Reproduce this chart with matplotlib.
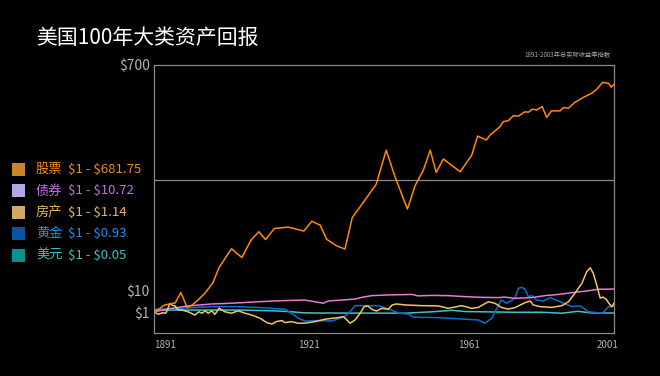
import numpy as np
import matplotlib
matplotlib.use('Agg')
import matplotlib.pyplot as plt
from matplotlib.patches import Rectangle

plt.rcParams['font.family'] = ['Noto Sans CJK SC', 'DejaVu Sans']

# 数据 (从图上读出, 单位: 美元)
years_stock = [1891, 1892.2, 1893.1, 1895.1, 1896.2, 1897.4, 1898.4, 1899.5, 1900.9, 1902.4,
               1903.6, 1906.0, 1908.0, 1909.8, 1911.3, 1912.6, 1914.3, 1917.0, 1920.0, 1921.7,
               1923.8, 1925.4, 1927.9, 1930.0, 1931.8, 1934.6, 1937.8, 1940.3, 1942.5, 1945.6,
               1947.5, 1949.6, 1951.3, 1952.8, 1954.6, 1958.8, 1961.8, 1963.5, 1966.0, 1967.1,
               1970.0, 1970.9, 1972.4, 1973.8, 1975.3, 1977.2, 1978.2, 1979.4, 1980.6, 1982.2,
               1983.5, 1984.9, 1987.4, 1988.3, 1989.8, 1991.7, 1994.1, 1996.6, 1998.0, 1999.7,
               2001.4, 2002.2, 2003]
stock = [1.5, 3.0, 4.3, 5.1, 9.4, 3.3, 4.3, 6.3, 9.2, 35,
         82, 139, 112, 166, 191, 167, 201, 205, 193, 223,
         211, 168, 148, 138, 234, 281, 336, 440, 359, 260,
         331, 379, 440, 372, 413, 374, 425, 483, 471, 486,
         512, 527, 530, 545, 544, 557, 556, 565, 563, 573,
         540, 560, 560, 570, 568, 586, 601, 614, 626, 647,
         644, 632, 641]

years_bond = [1891, 1894.4, 1897.6, 1902.2, 1906.0, 1911.2, 1915.0, 1920.2, 1922.5, 1924.6,
              1925.8, 1929.2, 1932.5, 1934.2, 1936.7, 1940.8, 1946.7, 1948.3, 1951.7, 1955.8,
              1960.0, 1964.7, 1969.5, 1971.4, 1974.3, 1979.2, 1983.0, 1986.9, 1990.8, 1995.6,
              1998.5, 2003]
bond = [1.5, 2.9, 3.9, 4.7, 5.0, 5.6, 6.0, 6.3, 5.6, 5.0,
        5.9, 6.3, 6.7, 7.4, 8.1, 8.4, 8.6, 8.0, 8.2, 8.1,
        7.7, 7.4, 7.3, 7.5, 7.0, 7.3, 8.1, 8.6, 9.3, 10.9,
        15.2, 16]

years_re = [1891, 1891.8, 1892.7, 1893.3, 1894.1, 1894.6, 1895.1, 1895.5, 1896.4, 1897.6,
            1898.9, 1899.7, 1900.3, 1900.9, 1901.5, 1902.2, 1902.8, 1903.6, 1904.7, 1906.0,
            1907.3, 1908.6, 1909.9, 1911.5, 1912.8, 1913.8, 1914.8, 1915.8, 1916.3, 1917.6,
            1918.9, 1920.2, 1922.5, 1925.0, 1928.3, 1929.6, 1931.3, 1932.5, 1933.8, 1934.8,
            1935.7, 1936.7, 1937.9, 1939.2, 1940.8, 1941.8, 1942.9, 1945.0, 1949.2, 1953.3,
            1955.8, 1959.2, 1960.8, 1961.8, 1963.7, 1966.6, 1968.5, 1970.5, 1972.4, 1974.3,
            1977.2, 1978.7, 1979.6, 1981.6, 1985.0, 1987.9, 1989.8, 1991.7, 1993.7, 1995.1,
            1996.1, 1997.0, 1998.0, 1999.0, 1999.8, 2000.7, 2001.5, 2002.4, 2003]
real_estate = [1.4, 0.94, 1.1, 0.99, 4.9, 4.1, 3.9, 2.5, 2.2, 1.5,
               0.9, 1.5, 0.99, 1.9, 0.99, 1.9, 0.93, 3.0, 1.5, 0.99,
               1.9, 0.99, 0.9, 0.74, 0.52, 0.45, 0.58, 0.62, 0.52, 0.57,
               0.49, 0.49, 0.57, 0.69, 0.77, 0.82, 0.49, 0.65, 0.99, 3.6,
               3.9, 2.5, 1.8, 2.9, 2.5, 4.3, 4.7, 4.3, 4.0, 3.9,
               2.9, 4.0, 3.3, 2.9, 3.3, 5.6, 5.0, 3.2, 2.6, 3.2,
               5.2, 5.9, 4.3, 3.6, 3.3, 4.0, 5.6, 9.1, 33.5, 69,
               81, 64, 28, 7.1, 7.5, 6.7, 5.0, 3.5, 5.1]

years_gold = [1891, 1895.7, 1902.2, 1907.3, 1911.8, 1916.4, 1917.6, 1918.9, 1920.2, 1923.3,
              1926.7, 1930, 1931.3, 1932.5, 1938.3, 1941.7, 1943.3, 1945.8, 1947.1, 1953.3,
              1960, 1963.7, 1965.6, 1967.6, 1970.3, 1971.9, 1974.3, 1975.3, 1976.3, 1977.2,
              1978.2, 1979.2, 1980.6, 1982.6, 1984.5, 1987.4, 1990.8, 1993.2, 1995.6, 1999.7,
              2001.4, 2003]
gold = [2.5, 2.9, 3.6, 3.6, 3.2, 2.5, 0.99, 0.74, 0.6, 0.62,
        0.6, 0.82, 1.53, 4.0, 4.0, 2.2, 0.99, 0.95, 0.79, 0.77,
        0.69, 0.65, 0.49, 0.74, 6.3, 5.0, 7.0, 18.2, 21.3, 15.2,
        7.7, 8.1, 6.3, 5.9, 7.3, 5.6, 3.6, 3.9, 1.5, 0.99,
        3.6, 3.9]

years_usd = [1891, 1908.6, 1915.1, 1917.7, 1919.6, 1922.5, 1945, 1951.8, 1956.8, 1960,
             1964.6, 1974.3, 1982.1, 1988, 1992.5, 1996.6, 2003]
usd = [2.2, 2.2, 1.8, 1.5, 1.1, 1.0, 0.99, 1.5, 2.1, 1.6,
       1.5, 1.3, 1.3, 0.99, 1.7, 1.0, 1.0]

names = ['股票', '债券', '房产', '黄金', '美元']
ranges = [r'\$1 - \$681.75', r'\$1 - \$10.72', r'\$1 - \$1.14', r'\$1 - \$0.93', r'\$1 - \$0.05']
line_colors = ['#ff8c00', '#e77bd2', '#f3c464', '#0a6fd2', '#3fc4c4']
box_colors = ['#c8862c', '#b4a6e6', '#d6a866', '#0a55a6', '#0a9090']
text_colors = ['#f08c1c', '#c070e6', '#e6b862', '#1a90f0', '#40c0c0']

x_ticks = [1891, 1921, 1961, 2001]
y_ticks = [1, 10, 700]
y_labels = ['$1', '$10', '$700']

# 不均匀的坐标轴 (分段线性)
x_nodes, x_pos = [1891, 1921, 1961, 2003], [0, 155, 315, 460]
y_nodes, y_pos = [0, 1, 10, 700], [0, 20, 42, 268]

W, H = 660, 376
fig = plt.figure(figsize=(W / 100, H / 100), dpi=100, facecolor='black')
ax = fig.add_axes([154 / W, 43 / H, 460 / W, 268 / H], facecolor='black')

ax.set_xscale('function', functions=(lambda v: np.interp(v, x_nodes, x_pos),
                                     lambda p: np.interp(p, x_pos, x_nodes)))
ax.set_yscale('function', functions=(lambda v: np.interp(v, y_nodes, y_pos),
                                     lambda p: np.interp(p, y_pos, y_nodes)))

series = [(years_usd, usd, 4), (years_gold, gold, 3), (years_bond, bond, 1),
          (years_re, real_estate, 2), (years_stock, stock, 0)]
for xs, ys, i in series:
    ax.plot(xs, ys, color=line_colors[i], lw=1.1, solid_joinstyle='round')

ax.set_xlim(1891, 2003)
ax.set_ylim(0, 700)

ax.set_xticks(x_ticks)
ax.set_xticklabels([str(t) for t in x_ticks])
ax.set_xticks([1921, 1961], minor=True)
ax.set_yticks(y_ticks)
ax.set_yticklabels(y_labels)
ax.set_yticks([10, 350], minor=True)
ax.grid(which='minor', color='#8a8a8a', lw=0.9)
ax.grid(which='major', visible=False)
ax.tick_params(which='both', length=0)
ax.tick_params(axis='x', colors='#b4b4b4', labelsize=7, pad=5)
ax.tick_params(axis='y', colors='#b4b4b4', labelsize=10, pad=3)
labs = ax.get_xticklabels()
labs[0].set_ha('left')
for s in ax.spines.values():
    s.set_color('#8a8a8a')
    s.set_linewidth(0.9)

fig.text(36 / W, 1 - 38 / H, '美国100年大类资产回报', color='white', fontsize=15,
         va='center', ha='left', fontweight='light')
fig.text(610 / W, 1 - 55 / H, '1891-2003年总实际收益率指数', color='#a8a8a8',
         fontsize=4.5, va='center', ha='right')

# 图例
for i in range(len(names)):
    yc = 169.5 + i * 21.4
    fig.patches.append(Rectangle((12 / W, 1 - (yc + 6.5) / H), 13 / W, 13 / H,
                                 transform=fig.transFigure, facecolor=box_colors[i],
                                 edgecolor='none'))
    fig.text(36 / W, 1 - yc / H, names[i], color=text_colors[i], fontsize=9.5,
             va='center', ha='left')
    fig.text(67.5 / W, 1 - yc / H, ranges[i], color=text_colors[i], fontsize=9.5,
             va='center', ha='left')

fig.savefig('out.png', dpi=100, facecolor='black')
